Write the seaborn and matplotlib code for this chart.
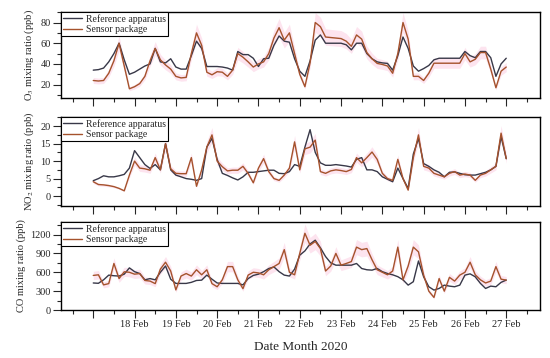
import matplotlib
matplotlib.use('Agg')
import matplotlib.pyplot as plt
from matplotlib.ticker import MultipleLocator
import numpy as np
import pandas as pd
import seaborn as sns
sns.set_style('ticks')
plt.rcParams['font.family'] = ['Liberation Serif', 'DejaVu Serif']
plt.rcParams['mathtext.fontset'] = 'stix'

# ---------------------------------------------------------------------------------------
# Data (3-hourly, 17 Feb 00:00 to 27 Feb 00:00, day-of-month)

days = np.arange(17, 27.001, 0.125)

o3_ref = [34, 34.5, 36, 42, 50, 60, 44, 30,
          32, 35, 38, 40, 55, 42, 41, 45,
          37, 35, 35, 48, 62, 55, 37.5, 37.5,
          37.5, 37, 36, 34, 52, 49, 49, 45.5,
          37.5, 45, 45.5, 58, 67, 62, 61, 45,
          33, 28, 43, 63, 68, 60, 60, 60,
          60, 58.5, 53.6, 60, 60, 50, 45, 42,
          41, 40.5, 34, 48, 66, 55, 38, 33,
          35.5, 38.5, 44, 45.5, 45.5, 45.5, 45.5, 45.5,
          52, 48, 46, 52, 52, 46, 28, 40,
          45.5]
o3_sensor = [24, 23.5, 24, 31, 43, 60, 38, 16,
             18, 21, 28, 43, 55, 44, 39, 35,
             28, 26.5, 27, 50, 70, 58, 32, 29.5,
             32.5, 32, 28, 34, 50, 46.5, 42, 37,
             40, 42, 50, 65, 75, 63, 70, 50,
             30, 18, 41, 80, 76, 66, 65.5, 65,
             64.5, 62, 57, 68, 64, 51, 45, 40.5,
             39.5, 38, 31, 50, 80, 64, 28, 28,
             24, 31, 40.7, 40.7, 40.7, 40.7, 40.7, 40.7,
             50, 42, 44.5, 51, 51, 35, 17, 33,
             37]

no2_ref = [4.4, 5.0, 5.8, 5.5, 5.5, 5.8, 6.2, 8.0,
           13.0, 11.0, 9.0, 7.9, 9.0, 7.5, 15.0, 7.5,
           6.0, 5.5, 5.0, 4.8, 4.5, 5.0, 14.0, 16.5,
           10.5, 6.5, 5.9, 5.2, 4.6, 5.5, 6.8, 6.8,
           7.0, 7.2, 7.4, 7.4, 6.5, 6.4, 7.0, 9.0,
           8.5, 14, 19, 12.5, 9.5, 8.8, 8.8, 9.0,
           8.8, 8.6, 8.3, 10.5, 11, 7.5, 7.5, 7,
           5.5, 4.8, 4.1, 8, 5, 2.2, 12, 16.5,
           9.3, 8.5, 7.5, 6.8, 5.5, 6.8, 6.9, 6.5,
           6.1, 6.0, 6.0, 6.4, 6.8, 7.5, 8.5, 17,
           10.7]
no2_sensor = [4.1, 3.3, 3.2, 3.0, 2.7, 2.2, 1.5, 6,
              10, 8, 7.8, 7.4, 11, 7.5, 15, 7.8,
              6.5, 6.4, 6.4, 11, 2.8, 7.5, 14, 17.5,
              10, 8.4, 7.2, 7.4, 7.4, 8.5, 6.5, 3.8,
              8, 10.7, 7, 5, 4.5, 6.0, 8, 15.5,
              7.5, 13.5, 14, 16, 7, 6.5, 7.2, 7.5,
              7.3, 7.0, 7.6, 11, 9.5, 11, 12.6, 10.5,
              6.5, 5.0, 4.5, 10.5, 5, 1.7, 11, 17.5,
              8.5, 8.0, 6.5, 6.0, 5.5, 6.5, 7.0, 6.0,
              6.3, 6.0, 4.5, 6.0, 6.5, 7.5, 8.5, 18,
              10.7]

co_ref = [430, 425, 480, 555, 545, 540, 570, 670,
          610, 580, 480, 500, 480, 600, 700, 490,
          423, 423, 423, 440, 470, 475, 555, 490,
          430, 423, 423, 423, 423, 400, 500, 550,
          570, 610, 660, 685, 610, 555, 540, 650,
          872, 940, 1050, 1110, 990, 850, 750, 713,
          713, 713, 713, 740, 660, 640, 634, 661,
          610, 581, 560, 530, 480, 396, 450, 780,
          528, 370, 317, 343, 396, 380, 370, 396,
          555, 575, 528, 423, 343, 380, 370, 440,
          476]
co_sensor = [550, 560, 400, 420, 740, 500, 608, 600,
             570, 580, 470, 460, 420, 650, 760, 620,
             320, 540, 580, 540, 640, 560, 640, 420,
             370, 480, 690, 690, 480, 340, 555, 600,
             590, 560, 640, 690, 740, 960, 600, 560,
             900, 1220, 1030, 1090, 977, 620, 700, 900,
             713, 740, 770, 1000, 960, 977, 800, 640,
             600, 560, 620, 1000, 480, 700, 1000, 925,
             555, 300, 200, 500, 300, 520, 460, 555,
             600, 760, 560, 480, 430, 460, 690, 490,
             476]

tick_days = list(range(17, 28))
tick_labels = [''] + ['%d Feb' % d for d in range(18, 28)]

# ---------------------------------------------------------------------------------------
# Plot

ref_color = '#383848'
sensor_color = '#a5522c'
band_color = '#fde4ef'
band = 0.12

panels = [
    (o3_ref, o3_sensor, r'O$_3$ mixing ratio (ppb)', (7, 90), 20, 10, [0.111, 0.726, 0.871, 0.240]),
    (no2_ref, no2_sensor, r'NO$_2$ mixing ratio (ppb)', (-2.8, 22.6), 5, 2.5, [0.111, 0.425, 0.871, 0.248]),
    (co_ref, co_sensor, 'CO mixing ratio (ppb)', (0, 1400), 300, 150, [0.111, 0.134, 0.871, 0.246]),
]

fig = plt.figure(figsize=(5.5, 3.58), dpi=100)

for i, (ref, sens, ylabel, ylim, major, minor, rect) in enumerate(panels):
    ax = fig.add_axes(rect)
    sens = np.array(sens, dtype=float)
    ax.fill_between(days, sens * (1 - band), sens * (1 + band), color=band_color, lw=0)
    sns.lineplot(x=days, y=ref, ax=ax, color=ref_color, lw=1.0, label='Reference apparatus')
    sns.lineplot(x=days, y=sens, ax=ax, color=sensor_color, lw=1.0, label='Sensor package')

    ax.set_xlim(16.22, 27.82)
    ax.set_ylim(*ylim)
    ax.set_xticks(tick_days)
    ax.set_xticklabels(tick_labels if i == 2 else [])
    ax.xaxis.set_minor_locator(MultipleLocator(0.5))
    ax.yaxis.set_major_locator(MultipleLocator(major))
    ax.yaxis.set_minor_locator(MultipleLocator(minor))
    ax.tick_params(which='major', direction='out', length=5.5, width=0.8, labelsize=7.5, pad=2)
    ax.tick_params(which='minor', direction='out', length=3, width=0.8)
    for s in ax.spines.values():
        s.set_linewidth(1.0)
        s.set_color('black')
    ax.set_ylabel(ylabel, fontsize=7.5, labelpad=3)
    ax.set_xlabel('Date Month 2020' if i == 2 else '', fontsize=9.5, labelpad=8)
    ax.legend(loc='upper left', borderaxespad=0, fancybox=False, edgecolor='black',
              fontsize=7, handlelength=2.0, borderpad=0.2, labelspacing=0.15,
              handletextpad=0.4, framealpha=1)
    ax.get_legend().get_frame().set_linewidth(0.8)

plt.savefig('out.png', dpi=100)
